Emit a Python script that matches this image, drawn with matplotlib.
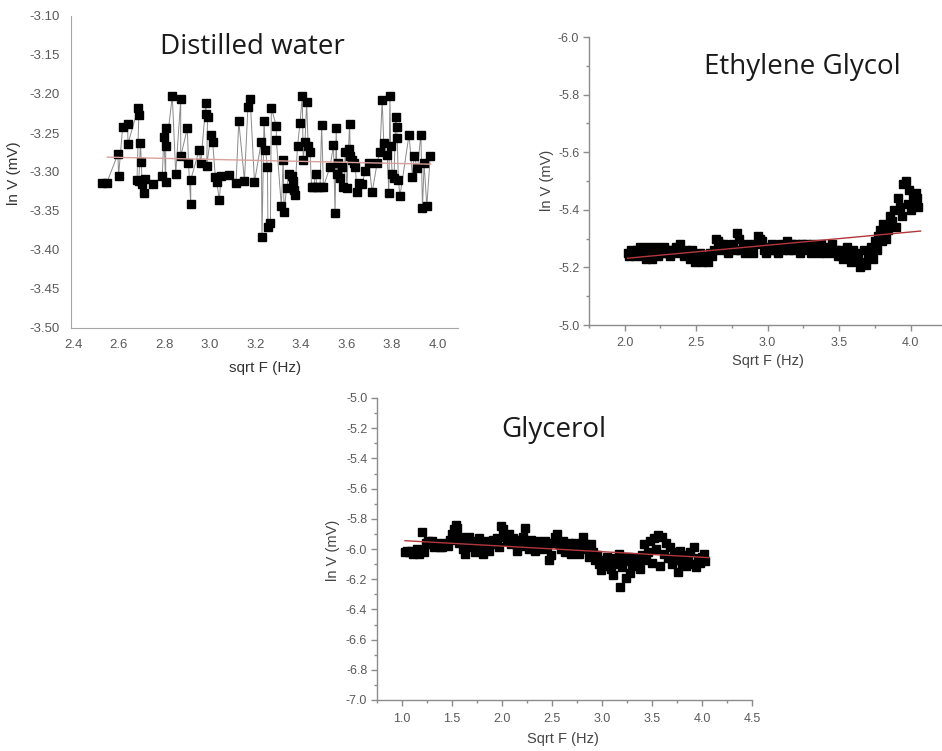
import numpy as np
import matplotlib
matplotlib.use("Agg")
import matplotlib.pyplot as plt
from matplotlib.ticker import MultipleLocator, FormatStrFormatter

plt.rcParams["axes.unicode_minus"] = False
plt.rcParams["font.family"] = ["Liberation Sans", "DejaVu Sans"]

# --- Distilled water: sqrt F (Hz) vs ln V (mV), points in measurement order
water_x = [2.528, 2.547, 2.596, 2.599, 2.617, 2.639, 2.640, 2.685, 2.688, 2.680,
           2.688, 2.695, 2.699, 2.702, 2.710, 2.717, 2.750, 2.791, 2.798, 2.806,
           2.806, 2.809, 2.835, 2.850, 2.872, 2.872, 2.901, 2.906, 2.916, 2.916,
           2.953, 2.960, 2.983, 2.983, 2.990, 2.986, 3.005, 3.012, 3.024, 3.030,
           3.042, 3.049, 3.086, 3.115, 3.127, 3.152, 3.167, 3.177, 3.196, 3.226,
           3.229, 3.238, 3.244, 3.253, 3.255, 3.266, 3.270, 3.292, 3.292, 3.314,
           3.322, 3.326, 3.337, 3.348, 3.359, 3.366, 3.369, 3.373, 3.385, 3.396,
           3.406, 3.410, 3.418, 3.425, 3.432, 3.440, 3.447, 3.455, 3.466, 3.469,
           3.484, 3.491, 3.499, 3.528, 3.543, 3.550, 3.555, 3.558, 3.565, 3.573,
           3.580, 3.587, 3.595, 3.602, 3.609, 3.614, 3.617, 3.624, 3.632, 3.639,
           3.646, 3.654, 3.668, 3.683, 3.698, 3.713, 3.735, 3.747, 3.757, 3.764,
           3.779, 3.786, 3.791, 3.794, 3.801, 3.809, 3.816, 3.820, 3.823, 3.828,
           3.835, 3.875, 3.890, 3.897, 3.912, 3.927, 3.934, 3.941, 3.953, 3.968]
water_y = [-3.314, -3.314, -3.277, -3.305, -3.242, -3.238, -3.264, -3.218, -3.227, -3.310,
           -3.312, -3.263, -3.287, -3.316, -3.327, -3.309, -3.316, -3.305, -3.255, -3.313,
           -3.244, -3.267, -3.203, -3.302, -3.207, -3.280, -3.244, -3.288, -3.341, -3.310,
           -3.272, -3.288, -3.211, -3.225, -3.229, -3.292, -3.252, -3.261, -3.306, -3.313,
           -3.336, -3.305, -3.304, -3.314, -3.235, -3.311, -3.217, -3.206, -3.313, -3.261,
           -3.383, -3.234, -3.272, -3.293, -3.370, -3.366, -3.218, -3.241, -3.259, -3.344,
           -3.284, -3.351, -3.321, -3.302, -3.305, -3.312, -3.323, -3.329, -3.267, -3.237,
           -3.203, -3.284, -3.261, -3.210, -3.267, -3.274, -3.319, -3.319, -3.302, -3.319,
           -3.319, -3.240, -3.319, -3.293, -3.266, -3.353, -3.244, -3.302, -3.289, -3.308,
           -3.293, -3.319, -3.274, -3.321, -3.270, -3.238, -3.280, -3.284, -3.289, -3.293,
           -3.326, -3.314, -3.316, -3.299, -3.288, -3.326, -3.288, -3.274, -3.208, -3.263,
           -3.278, -3.327, -3.203, -3.267, -3.302, -3.308, -3.229, -3.242, -3.257, -3.310,
           -3.331, -3.252, -3.306, -3.280, -3.295, -3.252, -3.346, -3.289, -3.344, -3.280]
water_fit = (-0.00634, -3.2648)      # slope, intercept
water_fit_x = (2.55, 3.97)

# --- Ethylene glycol
glycol_x = [2.020, 2.030, 2.045, 2.060, 2.070, 2.085, 2.100, 2.110, 2.125, 2.140,
            2.150, 2.165, 2.180, 2.190, 2.205, 2.220, 2.235, 2.250, 2.260, 2.275,
            2.290, 2.300, 2.315, 2.330, 2.345, 2.360, 2.370, 2.385, 2.400, 2.415,
            2.430, 2.440, 2.455, 2.470, 2.480, 2.495, 2.510, 2.525, 2.540, 2.550,
            2.565, 2.580, 2.595, 2.610, 2.625, 2.640, 2.655, 2.670, 2.680, 2.695,
            2.710, 2.725, 2.740, 2.755, 2.770, 2.785, 2.800, 2.810, 2.825, 2.840,
            2.855, 2.870, 2.885, 2.900, 2.915, 2.930, 2.945, 2.960, 2.975, 2.990,
            3.000, 3.015, 3.030, 3.045, 3.060, 3.075, 3.090, 3.105, 3.120, 3.135,
            3.150, 3.165, 3.180, 3.195, 3.210, 3.225, 3.240, 3.255, 3.270, 3.285,
            3.300, 3.315, 3.330, 3.345, 3.360, 3.375, 3.390, 3.405, 3.420, 3.435,
            3.450, 3.465, 3.480, 3.495, 3.510, 3.525, 3.540, 3.555, 3.570, 3.585,
            3.600, 3.615, 3.630, 3.645, 3.660, 3.675, 3.690, 3.705, 3.720, 3.735,
            3.750, 3.765, 3.775, 3.785, 3.800, 3.810, 3.825, 3.840, 3.855, 3.870,
            3.885, 3.895, 3.910, 3.925, 3.940, 3.950, 3.965, 3.980, 3.990, 4.000,
            4.015, 4.025, 4.035, 4.045, 4.050]
glycol_y = [-5.25, -5.24, -5.26, -5.25, -5.24, -5.26, -5.25, -5.27, -5.24, -5.26,
            -5.23, -5.27, -5.25, -5.23, -5.26, -5.27, -5.24, -5.26, -5.25, -5.27,
            -5.25, -5.26, -5.24, -5.26, -5.25, -5.27, -5.26, -5.28, -5.25, -5.24,
            -5.26, -5.25, -5.23, -5.26, -5.24, -5.22, -5.23, -5.25, -5.22, -5.24,
            -5.23, -5.22, -5.25, -5.24, -5.26, -5.30, -5.29, -5.28, -5.26, -5.28,
            -5.27, -5.25, -5.27, -5.28, -5.26, -5.32, -5.30, -5.26, -5.27, -5.25,
            -5.28, -5.26, -5.27, -5.25, -5.28, -5.31, -5.30, -5.29, -5.26, -5.25,
            -5.27, -5.26, -5.28, -5.26, -5.27, -5.25, -5.28, -5.26, -5.27, -5.29,
            -5.26, -5.28, -5.26, -5.28, -5.27, -5.25, -5.28, -5.26, -5.28, -5.27,
            -5.25, -5.28, -5.26, -5.27, -5.25, -5.28, -5.26, -5.25, -5.27, -5.26,
            -5.28, -5.25, -5.26, -5.24, -5.26, -5.23, -5.25, -5.27, -5.24, -5.22,
            -5.26, -5.23, -5.25, -5.20, -5.22, -5.26, -5.21, -5.24, -5.27, -5.23,
            -5.29, -5.26, -5.31, -5.33, -5.29, -5.35, -5.30, -5.33, -5.38, -5.36,
            -5.40, -5.34, -5.44, -5.41, -5.38, -5.49, -5.50, -5.42, -5.47, -5.40,
            -5.45, -5.43, -5.46, -5.44, -5.41]
glycol_fit = (-0.046, -5.139)
glycol_fit_x = (2.02, 4.07)

# --- Glycerol
glycerol_x = [1.03, 1.05, 1.07, 1.09, 1.11, 1.13, 1.15, 1.17, 1.19, 1.20,
              1.22, 1.24, 1.26, 1.28, 1.30, 1.32, 1.34, 1.36, 1.38, 1.40,
              1.42, 1.44, 1.46, 1.48, 1.50, 1.52, 1.54, 1.55, 1.57, 1.59,
              1.61, 1.63, 1.65, 1.67, 1.69, 1.71, 1.73, 1.75, 1.77, 1.79,
              1.81, 1.83, 1.85, 1.87, 1.89, 1.91, 1.93, 1.95, 1.97, 1.99,
              2.01, 2.03, 2.05, 2.07, 2.09, 2.11, 2.13, 2.15, 2.17, 2.19,
              2.21, 2.23, 2.25, 2.27, 2.29, 2.31, 2.33, 2.35, 2.37, 2.39,
              2.41, 2.43, 2.45, 2.47, 2.49, 2.51, 2.53, 2.55, 2.57, 2.59,
              2.61, 2.63, 2.65, 2.67, 2.69, 2.71, 2.73, 2.75, 2.77, 2.79,
              2.81, 2.83, 2.85, 2.87, 2.89, 2.91, 2.93, 2.95, 2.97, 2.99,
              3.01, 3.03, 3.05, 3.07, 3.09, 3.11, 3.13, 3.15, 3.17, 3.18,
              3.20, 3.22, 3.24, 3.26, 3.28, 3.30, 3.32, 3.34, 3.36, 3.38,
              3.40, 3.42, 3.44, 3.46, 3.48, 3.50, 3.52, 3.54, 3.56, 3.58,
              3.60, 3.62, 3.64, 3.66, 3.68, 3.70, 3.72, 3.74, 3.76, 3.78,
              3.80, 3.82, 3.84, 3.86, 3.88, 3.90, 3.92, 3.94, 3.96, 3.98,
              4.00, 4.02, 4.03]
glycerol_y = [-6.02, -6.01, -6.02, -6.01, -6.03, -6.02, -6.00, -6.03, -6.01, -5.89,
              -6.02, -5.96, -5.95, -5.97, -5.95, -5.99, -5.97, -5.96, -5.99, -5.99,
              -5.97, -5.96, -5.98, -5.94, -5.90, -5.87, -5.84, -5.86, -5.96, -5.92,
              -6.00, -6.03, -5.95, -5.92, -5.99, -5.95, -6.02, -5.96, -5.93, -5.99,
              -6.03, -5.97, -5.95, -6.01, -5.96, -5.94, -5.97, -5.93, -5.99, -5.85,
              -5.87, -5.92, -5.95, -5.90, -5.97, -5.93, -5.96, -6.01, -5.94, -5.98,
              -5.92, -5.86, -5.95, -6.00, -5.94, -5.98, -6.01, -5.95, -5.99, -5.97,
              -6.00, -5.95, -5.98, -6.07, -6.04, -5.96, -5.92, -5.90, -5.97, -6.00,
              -5.95, -6.02, -5.98, -5.96, -6.03, -5.99, -5.96, -6.01, -6.03, -5.98,
              -5.92, -5.97, -6.00, -6.05, -5.97, -6.02, -6.07, -6.04, -6.10, -6.14,
              -6.07, -6.11, -6.05, -6.09, -6.13, -6.17, -6.06, -6.10, -6.03, -6.25,
              -6.12, -6.08, -6.19, -6.05, -6.16, -6.10, -6.06, -6.11, -6.08, -6.13,
              -6.04, -5.97, -6.07, -6.02, -5.95, -6.09, -5.93, -6.00, -5.91, -6.11,
              -5.92, -6.03, -5.96, -6.06, -5.99, -6.10, -6.02, -6.07, -6.15, -6.01,
              -6.09, -6.04, -6.11, -6.07, -6.02, -6.10, -5.99, -6.12, -6.06, -6.09,
              -6.05, -6.03, -6.08]
glycerol_fit = (-0.0369, -5.907)
glycerol_fit_x = (1.03, 4.07)

W, H = 942, 751
TICK_GREY = "#5a5a5a"
SPINE_GREY = "#8c8c8c"


def px_axes(fig, left, top, right, bottom):
    return fig.add_axes([left / W, 1 - bottom / H, (right - left) / W, (bottom - top) / H])


def fit_line(ax, fit, xr, color):
    xs = np.array(xr)
    ax.plot(xs, fit[0] * xs + fit[1], color=color, lw=1.0, zorder=3)


def origin_style(ax):
    for side in ("top", "right"):
        ax.spines[side].set_visible(False)
    for side in ("left", "bottom"):
        ax.spines[side].set_color(SPINE_GREY)
        ax.spines[side].set_linewidth(1.0)
    ax.tick_params(which="major", direction="out", length=4, width=1, color=SPINE_GREY,
                   labelcolor=TICK_GREY, labelsize=9, pad=3)
    ax.tick_params(which="minor", direction="out", length=2.5, width=1, color=SPINE_GREY)
    ax.tick_params(axis="x", which="major", pad=5)


fig = plt.figure(figsize=(W / 100, H / 100), dpi=100)

# Distilled water (Excel-like)
ax1 = px_axes(fig, 71, 16, 458, 328)
ax1.plot(water_x, water_y, color="#8a8a8a", lw=0.7, marker="s", ms=5.8,
         mfc="black", mec="black", zorder=2)
fit_line(ax1, water_fit, water_fit_x, "#d9a19b")
ax1.set_xlim(2.39, 4.09)
ax1.set_ylim(-3.50, -3.10)
ax1.xaxis.set_major_locator(MultipleLocator(0.2))
ax1.yaxis.set_major_locator(MultipleLocator(0.05))
ax1.xaxis.set_major_formatter(FormatStrFormatter("%.1f"))
ax1.yaxis.set_major_formatter(FormatStrFormatter("%.2f"))
for side in ("top", "right"):
    ax1.spines[side].set_visible(False)
for side in ("left", "bottom"):
    ax1.spines[side].set_color("#a6a6a6")
ax1.tick_params(length=0, labelcolor=TICK_GREY, labelsize=9.5, pad=8)
ax1.set_ylabel("ln V (mV)", fontsize=11, color="#333333")
ax1.set_xlabel("sqrt F (Hz)", fontsize=11, color="#333333")
ax1.yaxis.set_label_coords(-0.13, 0.497)
ax1.xaxis.set_label_coords(0.501, -0.105)

# Ethylene glycol (Origin-like, inverted y)
ax2 = px_axes(fig, 589, 37, 942, 325)
ax2.plot(glycol_x, glycol_y, ls="none", marker="s", ms=5.3, mfc="black", mec="black", zorder=2)
fit_line(ax2, glycol_fit, glycol_fit_x, "#b3373a")
ax2.set_xlim(1.75, 4.22)
ax2.set_ylim(-5.0, -6.0)
ax2.xaxis.set_major_locator(MultipleLocator(0.5))
ax2.xaxis.set_minor_locator(MultipleLocator(0.25))
ax2.yaxis.set_major_locator(MultipleLocator(0.2))
ax2.yaxis.set_minor_locator(MultipleLocator(0.1))
ax2.xaxis.set_major_formatter(FormatStrFormatter("%.1f"))
ax2.yaxis.set_major_formatter(FormatStrFormatter("%.1f"))
origin_style(ax2)
ax2.set_ylabel("ln V (mV)", fontsize=10.5, color="#444444")
ax2.set_xlabel("Sqrt F (Hz)", fontsize=10.5, color="#444444")
ax2.yaxis.set_label_coords(-0.10, 0.503)
ax2.xaxis.set_label_coords(0.507, -0.10)

# Glycerol (Origin-like)
ax3 = px_axes(fig, 377, 398, 752, 700)
ax3.plot(glycerol_x, glycerol_y, ls="none", marker="s", ms=5.6, mfc="black", mec="black", zorder=2)
fit_line(ax3, glycerol_fit, glycerol_fit_x, "#b3373a")
ax3.set_xlim(0.75, 4.5)
ax3.set_ylim(-7.0, -5.0)
ax3.xaxis.set_major_locator(MultipleLocator(0.5))
ax3.xaxis.set_minor_locator(MultipleLocator(0.25))
ax3.yaxis.set_major_locator(MultipleLocator(0.2))
ax3.yaxis.set_minor_locator(MultipleLocator(0.1))
ax3.xaxis.set_major_formatter(FormatStrFormatter("%.1f"))
ax3.yaxis.set_major_formatter(FormatStrFormatter("%.1f"))
origin_style(ax3)
ax3.set_ylabel("ln V (mV)", fontsize=10.5, color="#444444")
ax3.set_xlabel("Sqrt F (Hz)", fontsize=10.5, color="#444444")
ax3.yaxis.set_label_coords(-0.10, 0.497)
ax3.xaxis.set_label_coords(0.496, -0.105)

# panel titles
title_kw = dict(fontsize=20, family=["Open Sans", "DejaVu Sans"], color="#1a1a1a",
                ha="center", va="baseline")
fig.text(252 / W, 1 - 54 / H, "Distilled water", **title_kw)
fig.text(802 / W, 1 - 74 / H, "Ethylene Glycol", **title_kw)
fig.text(554 / W, 1 - 437 / H, "Glycerol", **title_kw)

fig.savefig("out.png", dpi=100)
